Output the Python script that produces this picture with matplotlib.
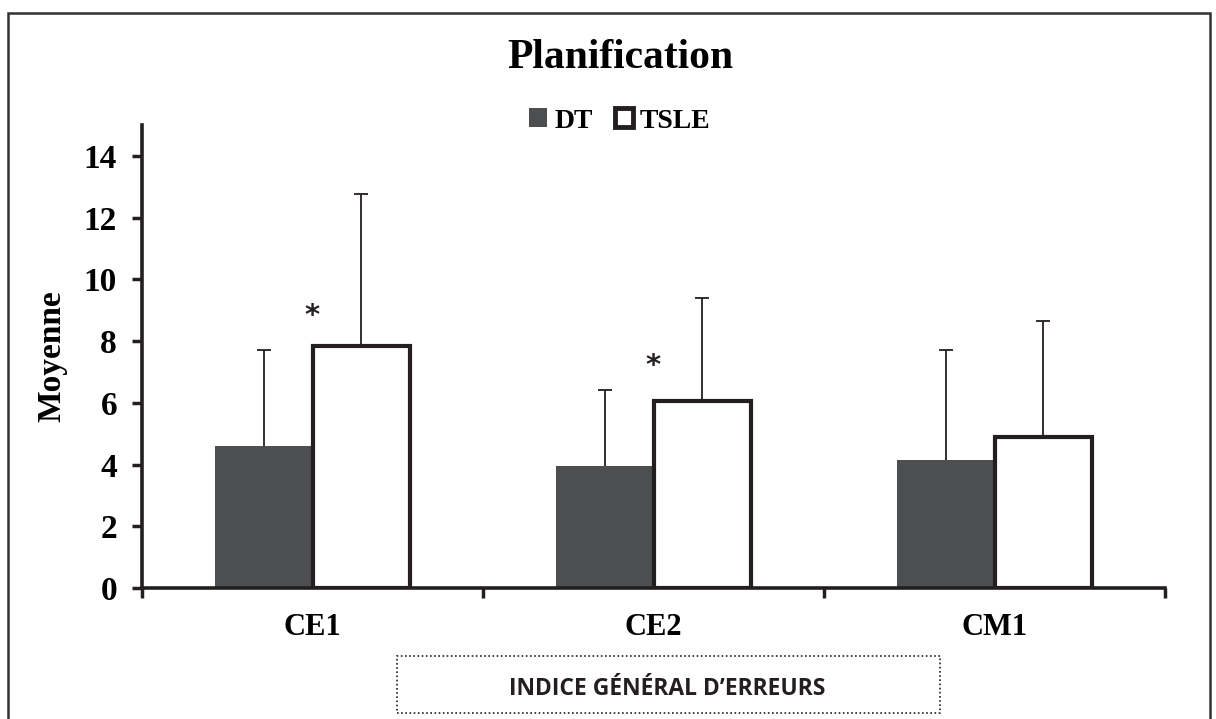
import numpy as np
import matplotlib
matplotlib.use('Agg')
import matplotlib.pyplot as plt
from matplotlib.patches import Rectangle, Patch

# data
categories = ['CE1', 'CE2', 'CM1']
dt_mean = [4.6, 3.95, 4.15]
dt_err = [3.1, 2.45, 3.55]
tsle_mean = [7.85, 6.05, 4.9]
tsle_err = [4.9, 3.35, 3.75]
signif = [True, True, False]
star_y = [8.8, 7.2, None]
yticks = [0, 2, 4, 6, 8, 10, 12, 14]

serif = ['Liberation Serif', 'DejaVu Serif']
dark = '#231f20'
grey = '#4d4e50'

fig = plt.figure(figsize=(12.16, 7.19), dpi=100)
ax = fig.add_axes([142/1216, 1 - 588/719, (1165 - 142)/1216, (588 - 125)/719])

x = np.arange(len(categories))
w = 0.285

ax.bar(x - w/2, dt_mean, w, color=grey, edgecolor='none', zorder=2)
ax.bar(x + w/2, tsle_mean, w, color='white', edgecolor=dark, linewidth=3, zorder=2)

# only the upper half of each error bar, no lower cap
zeros = np.zeros(len(categories))
for xs, m, e in [(x - w/2, dt_mean, dt_err), (x + w/2, tsle_mean, tsle_err)]:
    eb = ax.errorbar(xs, m, yerr=[zeros, e], fmt='none', ecolor=dark,
                     elinewidth=1.3, capsize=4.7, capthick=1.3, zorder=3)
    eb[1][0].set_visible(False)

for i, s in enumerate(signif):
    if s:
        ax.text(x[i], star_y[i], '*', ha='center', va='center', fontsize=21,
                fontweight='bold', family=['DejaVu Sans'], color=dark)

ax.set_xlim(-0.5, 2.5)
ax.set_ylim(0, 15)
ax.set_yticks(yticks)
ax.set_yticklabels([str(t) for t in yticks], fontsize=24, fontweight='bold', family=serif)
ax.set_xticks([-0.5, 0.5, 1.5, 2.5])
ax.set_xticklabels([])
ax.set_xticks(x, minor=True)
ax.set_xticklabels(categories, minor=True, fontsize=22, fontweight='bold', family=serif)
ax.tick_params(axis='x', which='minor', length=0, pad=18)
ax.tick_params(axis='both', which='major', direction='out', length=7, width=2.5, color=dark)
ax.tick_params(axis='y', pad=11)

for side in ['top', 'right']:
    ax.spines[side].set_visible(False)
for side in ['left', 'bottom']:
    ax.spines[side].set_linewidth(2.6)
    ax.spines[side].set_color(dark)

ax.set_ylabel('Moyenne', fontsize=24, fontweight='bold', family=serif, labelpad=12)

fig.text(620/1216, 1 - 58/719, 'Planification', ha='center', va='center',
         fontsize=30, fontweight='bold', family=serif)

handles = [Patch(facecolor=grey, edgecolor='none', label='DT'),
           Patch(facecolor='white', edgecolor=dark, linewidth=3.5, label='TSLE')]
fig.legend(handles=handles, loc='center', bbox_to_anchor=(620/1216, 1 - 121/719),
           ncol=2, frameon=False, handlelength=0.65, handleheight=0.65, handletextpad=0.25,
           columnspacing=0.8, prop={'family': serif, 'weight': 'bold', 'size': 20})

# outer frame
fig.patches.append(Rectangle((8/1216, -0.01), (1210 - 8)/1216, 1 - 13/719 + 0.01,
                             transform=fig.transFigure, fill=False,
                             edgecolor='#333333', linewidth=1.8))

# x-axis caption box
fig.patches.append(Rectangle((397/1216, 1 - 713/719), (940 - 397)/1216, (713 - 656)/719,
                             transform=fig.transFigure, fill=False,
                             edgecolor=dark, linewidth=1.2, linestyle=(0, (1, 1.5))))
fig.text(667/1216, 1 - 689/719, 'INDICE GÉNÉRAL D\u2019ERREURS', ha='center', va='center',
         fontsize=16.5, fontweight='bold', family=['Open Sans', 'DejaVu Sans'], color=dark)

fig.savefig('out.png', dpi=100)
